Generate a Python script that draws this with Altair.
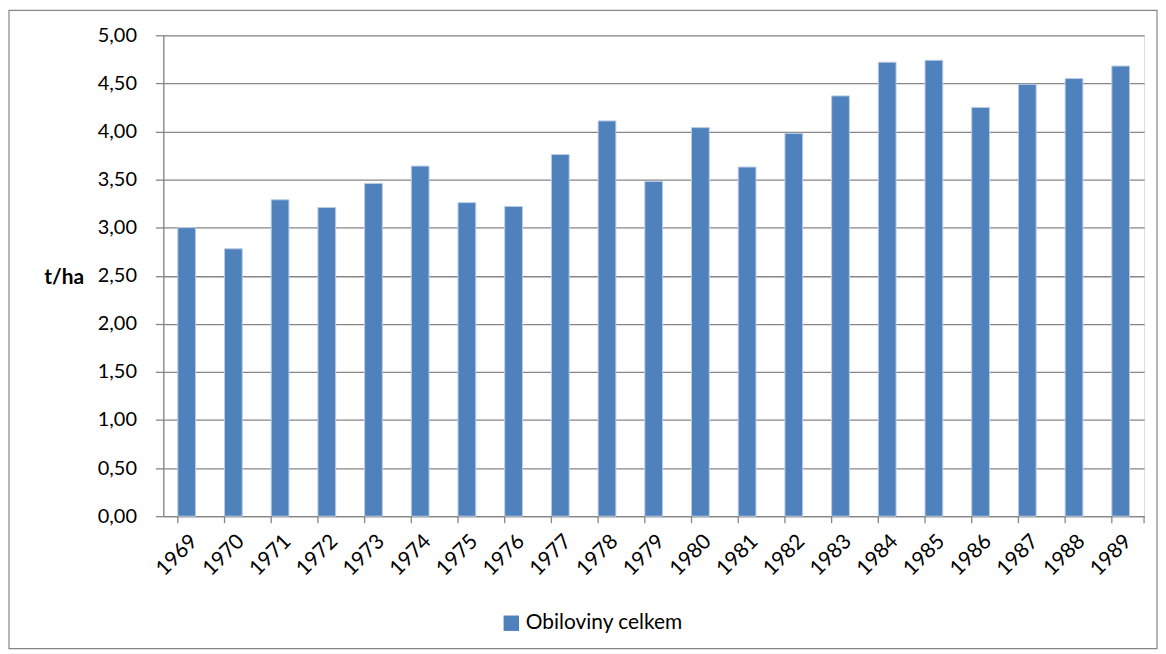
import altair as alt
import pandas as pd

years = ["1969", "1970", "1971", "1972", "1973", "1974", "1975", "1976", "1977", "1978",
         "1979", "1980", "1981", "1982", "1983", "1984", "1985", "1986", "1987", "1988", "1989"]
values = [3.00, 2.78, 3.29, 3.21, 3.46, 3.64, 3.26, 3.22, 3.76, 4.11,
          3.48, 4.04, 3.63, 3.98, 4.37, 4.72, 4.74, 4.25, 4.49, 4.55, 4.68]
series_name = "Obiloviny celkem"

df = pd.DataFrame({"year": years, "value": values, "series": series_name})

FONT = "Lato"
W, H = 985, 483
GRID = "#868686"

x_enc = alt.X("year:N", sort=years, scale=alt.Scale(paddingInner=0.62, paddingOuter=0.31),
              axis=alt.Axis(title=None, labelAngle=-45, labelAlign="right", labelBaseline="top",
                            labelFont=FONT, labelFontSize=21, labelColor="#000000",
                            labelPadding=14, ticks=False, domainColor=GRID, domainWidth=1.3))

bars = alt.Chart(df).mark_bar(stroke="#B9CDE5", strokeWidth=1).encode(
    x=x_enc,
    y=alt.Y("value:Q", scale=alt.Scale(domain=[0, 5]),
            axis=alt.Axis(title="t/ha", titleAngle=0, titleFont=FONT, titleFontSize=21,
                          titleFontWeight="bold", titleColor="#000000",
                          titleAlign="right", titleBaseline="middle", titleX=-80, titleY=243,
                          values=[0, 0.5, 1, 1.5, 2, 2.5, 3, 3.5, 4, 4.5, 5],
                          labelExpr="replace(format(datum.value, '.2f'), '.', ',')",
                          labelFont=FONT, labelFontSize=20, labelColor="#000000", labelPadding=19,
                          tickColor=GRID, tickSize=8, tickWidth=1.3,
                          gridColor=GRID, gridWidth=1.3, domainColor=GRID, domainWidth=1.3)),
    color=alt.Color("series:N", scale=alt.Scale(range=["#4F81BD"]),
                    legend=alt.Legend(title=None, orient="none", legendX=339, legendY=580,
                                      symbolType="square", symbolSize=240, symbolStrokeWidth=0,
                                      labelFont=FONT, labelFontSize=21, labelColor="#000000",
                                      labelOffset=4)),
)

tickdf = pd.DataFrame({"year": years})
ticks = alt.Chart(tickdf).mark_rule(color=GRID, strokeWidth=1.3).encode(
    x=alt.X("year:N", sort=years, bandPosition=0),
    y=alt.value(H), y2=alt.value(H + 7),
)
last_tick = alt.Chart(tickdf.head(1)).mark_rule(color=GRID, strokeWidth=1.3).encode(
    x=alt.value(W), y=alt.value(H), y2=alt.value(H + 7),
)

frame = alt.Chart(tickdf.head(1)).mark_rect(fill=None, stroke=GRID, strokeWidth=1.2, clip=False).encode(
    x=alt.value(-155), x2=alt.value(998), y=alt.value(-25), y2=alt.value(616),
)

chart = alt.layer(frame, bars, ticks, last_tick).properties(
    width=W, height=H,
    autosize=alt.AutoSizeParams(type="none"),
    padding={"left": 156, "top": 26, "right": 14, "bottom": 135},
).configure_view(stroke=None).configure(background="white")

chart.save("out.html", embed_options={"renderer": "svg", "actions": False})
